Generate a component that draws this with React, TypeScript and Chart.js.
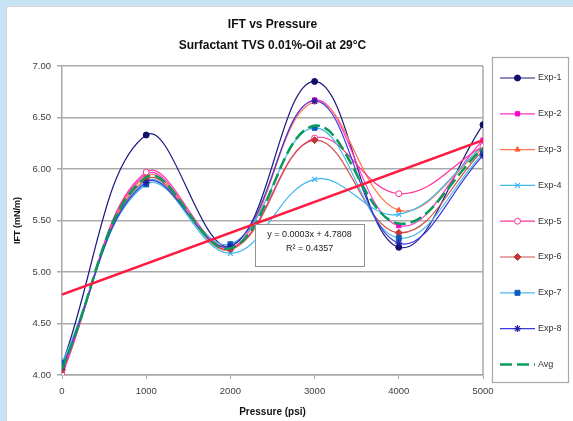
import React, { useEffect, useRef } from "react";
import { Chart, registerables } from "chart.js";
import { drawPoint } from "chart.js/helpers";

Chart.register(...registerables);

const pressures = [0, 1000, 2000, 3000, 4000, 5000];
const exp1 = [4.1, 6.33, 5.25, 6.85, 5.24, 6.43];
const exp2 = [4.02, 5.95, 5.22, 6.67, 5.45, 6.28];
const exp3 = [4.05, 5.93, 5.22, 6.65, 5.6, 6.2];
const exp4 = [4.05, 5.88, 5.18, 5.9, 5.56, 6.22];
const exp5 = [4.0, 5.97, 5.24, 6.3, 5.76, 6.22];
const exp6 = [4.05, 5.9, 5.22, 6.28, 5.38, 6.18];
const exp7 = [4.12, 5.85, 5.27, 6.4, 5.33, 6.15];
const exp8 = [4.08, 5.87, 5.25, 6.66, 5.28, 6.13];
const avg = [4.06, 5.92, 5.23, 6.42, 5.47, 6.2];

const trendPressures = [0, 5000];
const trendValues = [4.7808, 6.2808];
const trendEquation = "y = 0.0003x + 4.7808";
const trendR2 = "R² = 0.4357";

const seriesLabels = ["Exp-1", "Exp-2", "Exp-3", "Exp-4", "Exp-5", "Exp-6", "Exp-7", "Exp-8", "Avg"];
const seriesValues = [exp1, exp2, exp3, exp4, exp5, exp6, exp7, exp8, avg];

const titleText = "IFT vs Pressure";
const subtitleText = "Surfactant TVS 0.01%-Oil at 29°C";
const xTitle = "Pressure (psi)";
const yTitle = "IFT (mN/m)";

const FONT = '"Liberation Sans", Arial, sans-serif';

const styles = [
  { line: "#1a1a80", fill: "#10106a", point: "circle", r: 3 },
  { line: "#ff33cc", fill: "#ff00cc", point: "rect", r: 3 },
  { line: "#ff7a50", fill: "#ff5a30", point: "triangle", r: 3 },
  { line: "#40b8f0", fill: "#40b8f0", point: "crossRot", r: 3.5 },
  { line: "#ff3399", fill: "#ffffff", point: "circle", r: 3 },
  { line: "#d0504a", fill: "#c03838", point: "rectRot", r: 3.5 },
  { line: "#50b8e8", fill: "#0a5cc0", point: "rect", r: 3.5 },
  { line: "#3838e0", fill: "#2020a0", point: "star", r: 3.5 },
  { line: "#0a9a5a", fill: "#0a9a5a", point: "circle", r: 0 },
];

const bgPlugin = {
  id: "bg",
  beforeDraw(chart: any) {
    const { ctx, width, height } = chart;
    ctx.save();
    ctx.fillStyle = "#c6e4f4";
    ctx.fillRect(0, 0, width, height);
    ctx.fillStyle = "#ffffff";
    ctx.fillRect(6, 6, width - 6, height - 6);
    ctx.strokeStyle = "#d8d8d8";
    ctx.lineWidth = 1;
    ctx.strokeRect(6.5, 6.5, width, height);
    ctx.restore();
  },
  beforeDatasetsDraw(chart: any) {
    const { ctx, chartArea } = chart;
    ctx.save();
    ctx.strokeStyle = "#a8a8a8";
    ctx.lineWidth = 1.5;
    ctx.beginPath();
    ctx.moveTo(chartArea.right, chartArea.top);
    ctx.lineTo(chartArea.right, chartArea.bottom);
    ctx.stroke();
    ctx.restore();
  },
};

const trendLabelPlugin = {
  id: "trendLabel",
  afterDatasetsDraw(chart: any) {
    const { ctx, scales } = chart;
    const x0 = scales.x.getPixelForValue(2290);
    const x1 = scales.x.getPixelForValue(3590);
    const y0 = scales.y.getPixelForValue(5.466);
    const y1 = scales.y.getPixelForValue(5.058);
    ctx.save();
    ctx.fillStyle = "#ffffff";
    ctx.fillRect(x0, y0, x1 - x0, y1 - y0);
    ctx.strokeStyle = "#909090";
    ctx.lineWidth = 1;
    ctx.strokeRect(Math.round(x0) + 0.5, Math.round(y0) + 0.5, Math.round(x1 - x0), Math.round(y1 - y0));
    ctx.fillStyle = "#222";
    ctx.font = "9px " + FONT;
    ctx.textAlign = "center";
    ctx.textBaseline = "middle";
    const cx = (x0 + x1) / 2;
    ctx.fillText(trendEquation, cx, y0 + 11);
    ctx.fillText(trendR2, cx, y0 + 25);
    ctx.restore();
  },
};

const legendPlugin = {
  id: "customLegend",
  afterDraw(chart: any) {
    const { ctx, chartArea } = chart;
    const x0 = chartArea.right + 9;
    const y0 = 57;
    const w = 76;
    const h = 325;
    ctx.save();
    ctx.fillStyle = "#ffffff";
    ctx.fillRect(x0, y0, w, h);
    ctx.strokeStyle = "#a8a8a8";
    ctx.lineWidth = 1.2;
    ctx.strokeRect(x0 + 0.5, y0 + 0.5, w, h);
    const items = chart.data.datasets.filter((d: any) => d.label !== "Trend");
    items.forEach((ds: any, i: number) => {
      const y = y0 + 21 + i * 35.8;
      ctx.strokeStyle = ds.borderColor;
      ctx.lineWidth = ds.borderWidth;
      ctx.setLineDash(ds.borderDash || []);
      ctx.beginPath();
      ctx.moveTo(x0 + 8, y);
      ctx.lineTo(x0 + 43, y);
      ctx.stroke();
      ctx.setLineDash([]);
      if (ds.pointRadius > 0) {
        ctx.fillStyle = ds.pointBackgroundColor;
        ctx.strokeStyle = ds.pointBorderColor;
        ctx.lineWidth = ds.pointBorderWidth;
        drawPoint(ctx, { pointStyle: ds.pointStyle, rotation: 0, radius: ds.pointRadius, borderWidth: ds.pointBorderWidth } as any, x0 + 25.5, y);
      }
      ctx.fillStyle = "#333";
      ctx.font = "9px " + FONT;
      ctx.textAlign = "left";
      ctx.textBaseline = "middle";
      ctx.fillText(ds.label, x0 + 46, y);
    });
    ctx.restore();
  },
};

export default function App() {
  const ref = useRef<HTMLCanvasElement | null>(null);

  useEffect(() => {
    if (!ref.current) return;
    Chart.defaults.font.family = FONT;
    const datasets: any[] = seriesLabels.map((label, i) => {
      const st = styles[i];
      const isAvg = label === "Avg";
      return {
        label,
        data: pressures.map((p, j) => ({ x: p, y: seriesValues[i][j] })),
        borderColor: st.line,
        backgroundColor: st.fill,
        borderWidth: isAvg ? 2.5 : 1.2,
        borderDash: isAvg ? [12, 5] : undefined,
        pointStyle: st.point,
        pointRadius: st.r,
        pointBackgroundColor: st.fill,
        pointBorderColor: st.point === "circle" && st.fill === "#ffffff" ? st.line : st.fill,
        pointBorderWidth: st.point === "crossRot" || st.point === "star" ? 1.2 : 1,
        tension: 0.4,
        fill: false,
        order: 9 - i + 1,
      };
    });
    datasets.push({
      label: "Trend",
      data: trendPressures.map((p, j) => ({ x: p, y: trendValues[j] })),
      borderColor: "#ff1a40",
      borderWidth: 2.5,
      pointRadius: 0,
      tension: 0,
      fill: false,
      order: 0,
    });

    const chart = new Chart(ref.current, {
      type: "line",
      data: { datasets },
      plugins: [bgPlugin, trendLabelPlugin, legendPlugin],
      options: {
        responsive: false,
        animation: false,
        events: [],
        layout: { padding: { left: 0, top: 6, right: 90, bottom: 0 } },
        plugins: {
          legend: { display: false },
          tooltip: { enabled: false },
          title: {
            display: true,
            text: titleText,
            fullSize: false,
            color: "#111",
            font: { size: 12, weight: "bold", family: FONT },
            padding: { top: 11.8, bottom: 0 },
          },
          subtitle: {
            display: true,
            text: subtitleText,
            fullSize: false,
            color: "#111",
            font: { size: 12, weight: "bold", family: FONT },
            padding: { top: 6.6, bottom: 12.8 },
          },
        },
        scales: {
          x: {
            type: "linear",
            min: 0,
            max: 5000,
            ticks: { stepSize: 1000, color: "#404040", font: { size: 9.5 }, padding: 7, callback: (v: any) => String(v) },
            grid: { display: true, drawOnChartArea: false, drawTicks: true, tickLength: 4, color: "#a8a8a8" },
            border: { display: true, color: "#a8a8a8", width: 1.5 },
            title: { display: true, text: xTitle, color: "#111", font: { size: 10, weight: "bold" }, padding: { top: 0, bottom: 3 } },
            afterFit(s: any) {
              s.height = 46;
            },
          },
          y: {
            type: "linear",
            min: 4,
            max: 7,
            ticks: { stepSize: 0.5, color: "#404040", font: { size: 9.5 }, padding: 6, callback: (v: any) => Number(v).toFixed(2) },
            grid: { color: "#aaaaaa", lineWidth: 1.5, tickLength: 5 },
            border: { display: true, color: "#a8a8a8", width: 1.5 },
            title: { display: true, text: yTitle, color: "#111", font: { size: 9, weight: "bold" }, padding: { top: 12, bottom: 0 } },
            afterFit(s: any) {
              s.width = 62;
            },
          },
        },
      } as any,
    });
    return () => chart.destroy();
  }, []);

  return (
    <div style={{ position: "fixed", left: 0, top: 0, width: 573, height: 421 }}>
      <canvas ref={ref} width={573} height={421} style={{ display: "block", width: 573, height: 421 }} />
    </div>
  );
}
